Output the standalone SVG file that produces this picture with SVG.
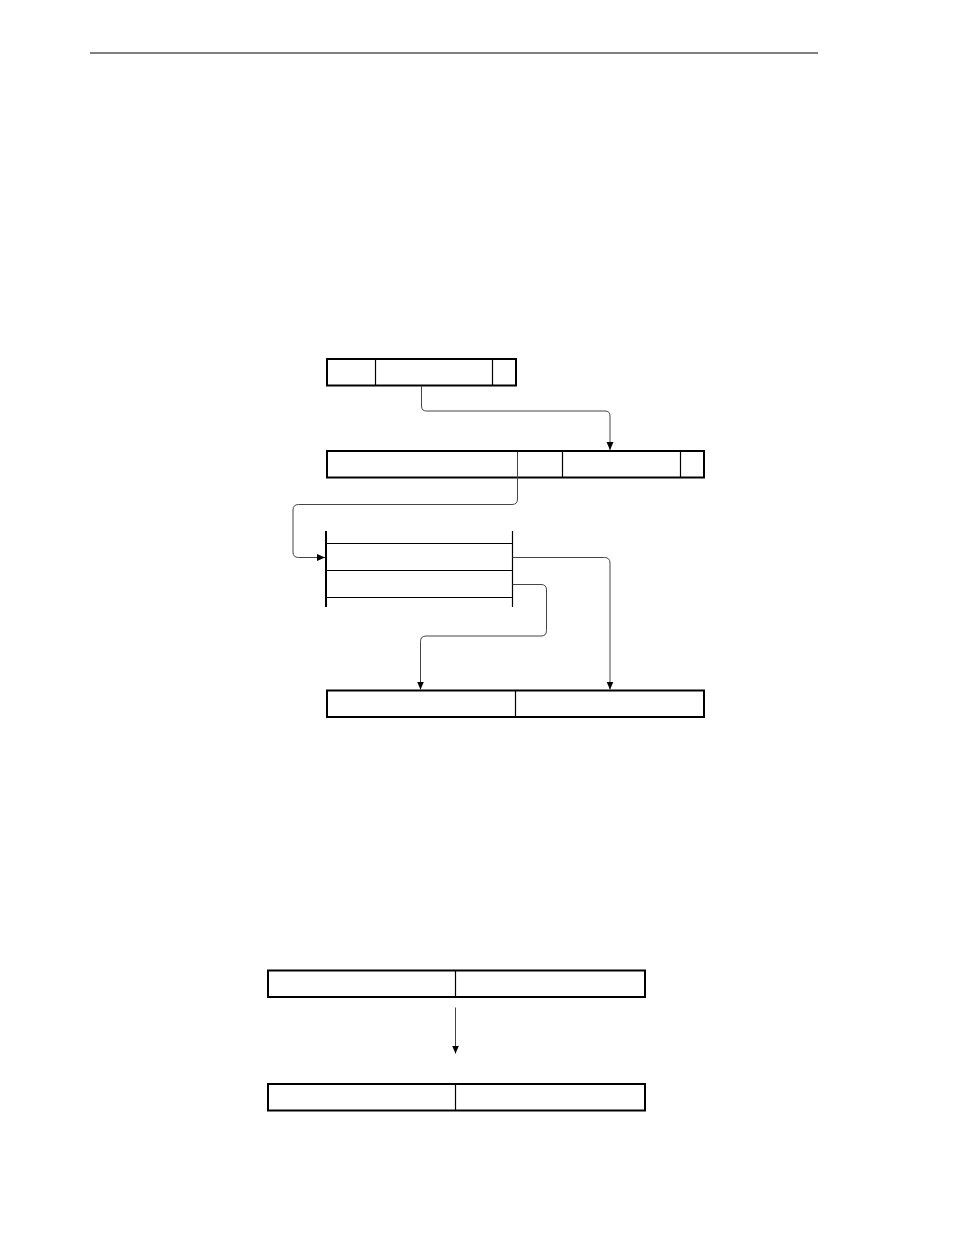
<svg xmlns="http://www.w3.org/2000/svg" width="954" height="1235" viewBox="0 0 954 1235">
<style>
.box{fill:none;stroke:#000;stroke-width:2}
.div{stroke:#000;stroke-width:1.2}
.con{fill:none;stroke:#444;stroke-width:1}
</style>
<defs>
<marker id="ah" viewBox="0 0 8 10" refX="8" refY="5" markerWidth="8" markerHeight="10" markerUnits="userSpaceOnUse" orient="auto">
<path d="M0,1.5 L8,5 L0,8.5 Z" fill="#000"/>
</marker>
</defs>
<rect width="954" height="1235" fill="#fff"/>
<line x1="90" y1="53" x2="818" y2="53" stroke="#000" stroke-width="1.2"/>
<g id="box1">
<rect class="box" x="327" y="359" width="189" height="26.5"/>
<line class="div" x1="375.5" y1="359" x2="375.5" y2="385.5"/>
<line class="div" x1="492.5" y1="359" x2="492.5" y2="385.5"/>
</g>
<g id="box2">
<rect class="box" x="327" y="451" width="377" height="26.5"/>
<line class="div" x1="562.5" y1="451" x2="562.5" y2="477.5"/>
<line class="div" x1="680.5" y1="451" x2="680.5" y2="477.5"/>
</g>
<g id="table">
<line x1="326" y1="531" x2="326" y2="607" stroke="#000" stroke-width="2"/>
<line x1="512.5" y1="531" x2="512.5" y2="607" stroke="#000" stroke-width="1.2"/>
<line class="div" x1="326" y1="543.5" x2="512.5" y2="543.5"/>
<line class="div" x1="326" y1="570.5" x2="512.5" y2="570.5"/>
<line class="div" x1="326" y1="597.5" x2="512.5" y2="597.5"/>
</g>
<g id="box3">
<rect class="box" x="327" y="690.5" width="377" height="26.5"/>
<line class="div" x1="515.5" y1="690.5" x2="515.5" y2="717"/>
</g>
<g id="box4">
<rect class="box" x="268" y="970.5" width="377" height="26.5"/>
<line class="div" x1="455.5" y1="970.5" x2="455.5" y2="997"/>
</g>
<g id="box5">
<rect class="box" x="268" y="1084" width="377" height="26.5"/>
<line class="div" x1="455.5" y1="1084" x2="455.5" y2="1110.5"/>
</g>
<g id="connectors">
<path class="con" d="M421.5,386 V406 Q421.5,411 426.5,411 H605 Q610,411 610,416 V450" marker-end="url(#ah)"/>
<path class="con" d="M517.5,452 V499 Q517.5,504.5 512,504.5 H298.5 Q293,504.5 293,510 V552 Q293,557.5 298.5,557.5 H325" marker-end="url(#ah)"/>
<path class="con" d="M512.5,557.5 H604.5 Q610,557.5 610,563 V689.5" marker-end="url(#ah)"/>
<path class="con" d="M512.5,584.5 H541 Q546.5,584.5 546.5,590 V630.5 Q546.5,636 541,636 H426 Q420.5,636 420.5,641.5 V689.5" marker-end="url(#ah)"/>
<path class="con" d="M455.5,1007.5 V1053.5" stroke="#000" marker-end="url(#ah)"/>
</g>
</svg>
